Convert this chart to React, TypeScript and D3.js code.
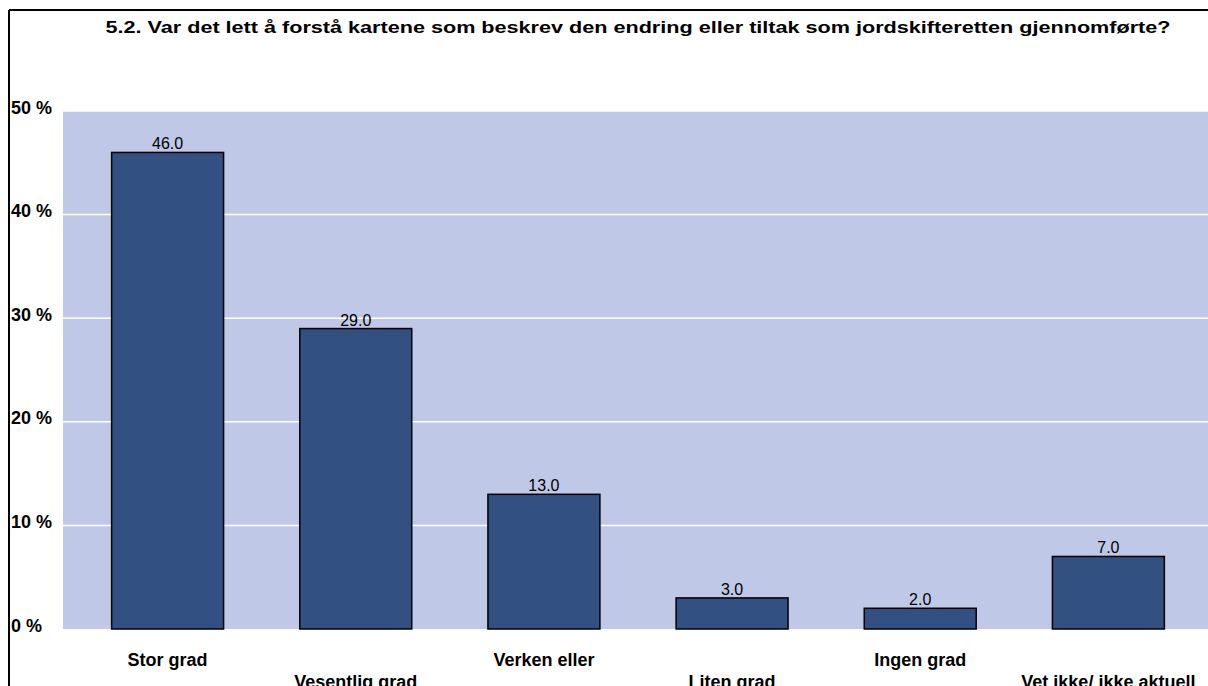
import React from "react";
import * as d3 from "d3";

const categories = ["Stor grad", "Vesentlig grad", "Verken eller", "Liten grad", "Ingen grad", "Vet ikke/ ikke aktuell"];
const values = [46.0, 29.0, 13.0, 3.0, 2.0, 7.0];
const yTicks = [0, 10, 20, 30, 40, 50];
const title = "5.2. Var det lett å forstå kartene som beskrev den endring eller tiltak som jordskifteretten gjennomførte?";

export default function App() {
  const W = 1208, H = 686;
  const plotL = 63, plotR = 1208, plotT = 111, plotB = 629;
  const x = d3.scaleBand<string>().domain(categories).range([74, 1202]).paddingInner(0.405).paddingOuter(0.2);
  const y = d3.scaleLinear().domain([0, 50]).range([plotB, plotT]);
  const font = "'Liberation Sans', Arial, sans-serif";
  return (
    <svg width={W} height={H} style={{ position: "absolute", left: 0, top: 0 }} fontFamily={font}>
      <rect x={0} y={0} width={W} height={H} fill="#fff" />
      <line x1={9} y1={10} x2={W} y2={10} stroke="#000" strokeWidth={2} />
      <line x1={9} y1={10} x2={9} y2={H} stroke="#000" strokeWidth={2} />
      <text x={638} y={33} textAnchor="middle" fontWeight="bold" fontSize={16} textLength={1065} lengthAdjust="spacingAndGlyphs">{title}</text>
      <rect x={plotL} y={plotT} width={plotR - plotL} height={plotB - plotT} fill="#BFC8E6" />
      {yTicks.map(t => (
        <g key={t}>
          {t > 0 && <line x1={plotL} x2={plotR} y1={y(t)} y2={y(t)} stroke="#fff" strokeWidth={1.5} />}
          <text x={11} y={y(t) + 2.5} fontWeight="bold" fontSize={18}>{t} %</text>
        </g>
      ))}
      {categories.map((c, i) => {
        const bx = x(c)!;
        const bw = x.bandwidth();
        const cx = bx + bw / 2;
        return (
          <g key={c}>
            <rect x={bx} y={y(values[i])} width={bw} height={plotB - y(values[i])} fill="#325082" stroke="#000" strokeWidth={1.5} />
            <text x={cx} y={y(values[i]) - 3} textAnchor="middle" fontSize={16}>{values[i].toFixed(1)}</text>
            <text x={cx} y={i % 2 === 0 ? 666 : 688} textAnchor="middle" fontWeight="bold" fontSize={18}>{c}</text>
          </g>
        );
      })}
    </svg>
  );
}
